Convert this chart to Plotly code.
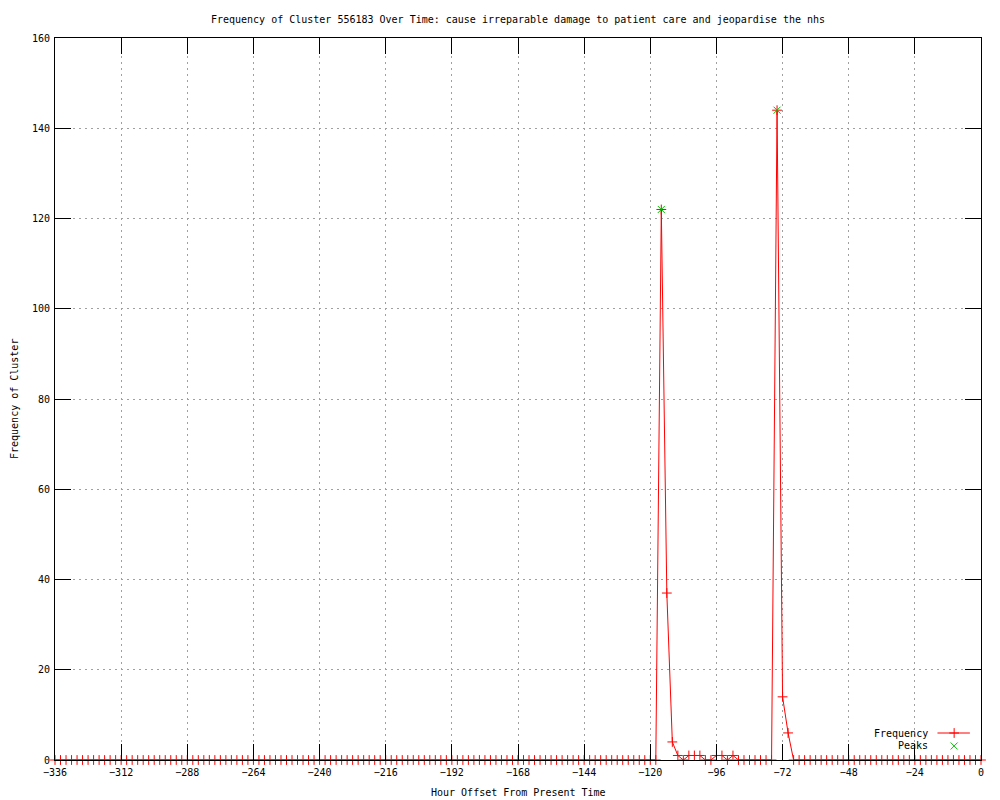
import plotly.graph_objects as go

# hour offsets, sampled every 2 hours
hours = list(range(-336, 1, 2))

# frequency per 2-hour bin, 20 bins per row
frequency = [
    0, 0, 0, 0, 0, 0, 0, 0, 0, 0, 0, 0, 0, 0, 0, 0, 0, 0, 0, 0,        # -336 .. -298
    0, 0, 0, 0, 0, 0, 0, 0, 0, 0, 0, 0, 0, 0, 0, 0, 0, 0, 0, 0,        # -296 .. -258
    0, 0, 0, 0, 0, 0, 0, 0, 0, 0, 0, 0, 0, 0, 0, 0, 0, 0, 0, 0,        # -256 .. -218
    0, 0, 0, 0, 0, 0, 0, 0, 0, 0, 0, 0, 0, 0, 0, 0, 0, 0, 0, 0,        # -216 .. -178
    0, 0, 0, 0, 0, 0, 0, 0, 0, 0, 0, 0, 0, 0, 0, 0, 0, 0, 0, 0,        # -176 .. -138
    0, 0, 0, 0, 0, 0, 0, 0, 0, 0, 122, 37, 4, 1, 0, 1, 1, 1, 0, 0,     # -136 .. -98
    1, 1, 0, 1, 0, 0, 0, 0, 0, 0, 0, 144, 14, 6, 0, 0, 0, 0, 0, 0,     # -96 .. -58
    0, 0, 0, 0, 0, 0, 0, 0, 0, 0, 0, 0, 0, 0, 0, 0, 0, 0, 0, 0,        # -56 .. -18
    0, 0, 0, 0, 0, 0, 0, 0, 0,                                         # -16 .. 0
]

peak_hours = [-116, -74]
peak_values = [122, 144]

RED = "#ff0000"
GREEN = "#00c000"

fig = go.Figure()
fig.add_trace(go.Scatter(
    x=hours, y=frequency, mode="lines+markers", name="Frequency",
    line=dict(color=RED, width=1),
    marker=dict(symbol="cross-thin", size=7, line=dict(color=RED, width=1)),
    cliponaxis=False, showlegend=False,
))
fig.add_trace(go.Scatter(
    x=peak_hours, y=peak_values, mode="markers", name="Peaks",
    marker=dict(symbol="x-thin", size=7, line=dict(color=GREEN, width=1)),
    cliponaxis=False, showlegend=False,
))

# gnuplot-style key (text left, sample right) on an overlay axis
fig.add_trace(go.Scatter(
    x=[0.953, 0.988], y=[0.0374, 0.0374], xaxis="x2", yaxis="y2", mode="lines",
    line=dict(color=RED, width=1), showlegend=False, hoverinfo="skip",
))
fig.add_trace(go.Scatter(
    x=[0.971], y=[0.0374], xaxis="x2", yaxis="y2", mode="markers",
    marker=dict(symbol="cross-thin", size=7, line=dict(color=RED, width=1)),
    showlegend=False, hoverinfo="skip",
))
fig.add_trace(go.Scatter(
    x=[0.971], y=[0.0194], xaxis="x2", yaxis="y2", mode="markers",
    marker=dict(symbol="x-thin", size=7, line=dict(color=GREEN, width=1)),
    showlegend=False, hoverinfo="skip",
))

font = dict(family="DejaVu Sans Mono", size=10, color="black")
axis = dict(
    showline=True, linecolor="black", linewidth=1, mirror="allticks",
    ticks="inside", tickcolor="black", ticklen=16, tickwidth=1,
    showgrid=True, gridcolor="#a0a0a0", gridwidth=1, griddash="2px,4px",
    zeroline=False, tickfont=font, automargin=False,
)

# the page body adds an 8px offset, so margins are shifted by that much
fig.update_layout(
    width=1000, height=800,
    margin=dict(l=47, r=27, t=30, b=48),
    paper_bgcolor="white", plot_bgcolor="white",
    font=font,
    title=dict(text="Frequency of Cluster 556183 Over Time: cause irreparable damage to patient care and jeopardise the nhs",
               x=0.51, xanchor="center", y=1 - 11 / 800, yanchor="middle", font=font),
    xaxis=dict(axis, range=[-336, 0], tickmode="linear", tick0=-336, dtick=24, ticklabelstandoff=3),
    yaxis=dict(axis, range=[0, 160], tickmode="linear", tick0=0, dtick=20, ticklabelstandoff=2),
    xaxis2=dict(overlaying="x", range=[0, 1], visible=False, fixedrange=True),
    yaxis2=dict(overlaying="y", range=[0, 1], visible=False, fixedrange=True),
    annotations=[
        dict(text="Frequency", x=0.945, y=0.0374, xref="x2", yref="y2",
             xanchor="right", yanchor="middle", showarrow=False, font=font),
        dict(text="Peaks", x=0.945, y=0.0194, xref="x2", yref="y2",
             xanchor="right", yanchor="middle", showarrow=False, font=font),
        dict(text="Hour Offset From Present Time", x=0.5, y=-32 / 722, xref="paper", yref="paper",
             xanchor="center", yanchor="middle", showarrow=False, font=font),
        dict(text="Frequency of Cluster", x=-41 / 926, y=0.5, xref="paper", yref="paper",
             textangle=-90, xanchor="center", yanchor="middle", showarrow=False, font=font),
    ],
)

fig.write_html("out.html")
